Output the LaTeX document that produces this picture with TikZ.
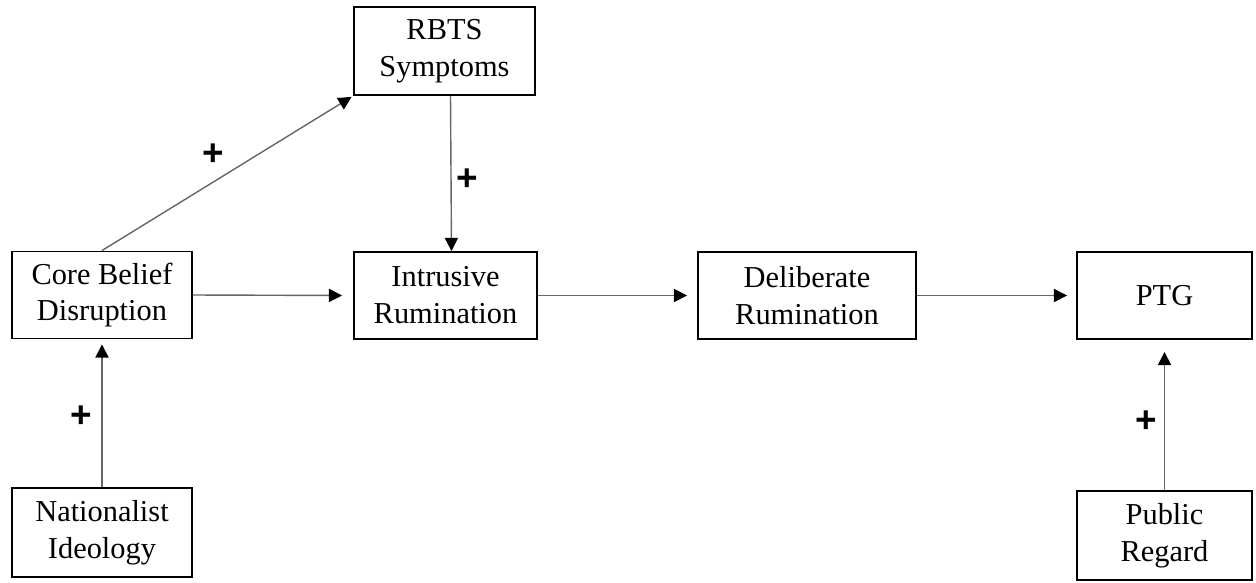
\documentclass[tikz,border=0pt]{standalone}
\usepackage{fontspec}
\setmainfont{Liberation Serif}
\newfontfamily\plusfont{Liberation Sans}
\usetikzlibrary{arrows.meta}

\tikzset{
  box/.style={draw, line width=1.1pt, align=center, inner sep=0pt,
    font=\fontsize{17.3}{21}\selectfont},
  link/.style={draw=black!60, line width=0.8pt,
    -{Triangle[color=black, length=7.5pt, width=7.5pt]}},
  plus/.style={font=\plusfont\bfseries\fontsize{21}{21}\selectfont, inner sep=0pt}
}

\begin{document}
\begin{tikzpicture}[x=0.02cm, y=-0.02cm]
        \useasboundingbox (0,0) rectangle (1256,582);
        % boxes
        \node[box, minimum width=3.6cm, minimum height=1.74cm] (core) at (102,295) {Core Belief\\Disruption};
        \node[box, minimum width=3.66cm, minimum height=1.74cm] (intrusive) at (445.5,295.5) {Intrusive\\Rumination};
        \node[box, minimum width=3.62cm, minimum height=1.76cm] (rbts) at (444.5,51) {RBTS\\Symptoms};
        \node[box, minimum width=4.36cm, minimum height=1.74cm] (deliberate) at (807,295.5) {Deliberate\\Rumination};
        \node[box, minimum width=3.5cm, minimum height=1.74cm] (ptg) at (1164.5,295.5) {PTG};
        \node[box, minimum width=3.6cm, minimum height=1.78cm] (nationalist) at (102,532.5) {Nationalist\\Ideology};
        \node[box, minimum width=3.5cm, minimum height=1.78cm] (public) at (1164.5,535.5) {Public\\Regard};
        % arrows
        \draw[link, shorten >=1pt] (core.north) -- (rbts.south west);
        \draw[link] ([xshift=0.12cm]rbts.south) -- ([xshift=0.12cm]intrusive.north);
        \draw[link, shorten >=0.22cm] (core.east) -- (intrusive.west);
        \draw[link, shorten >=0.2cm] (intrusive.east) -- (deliberate.west);
        \draw[link, shorten >=0.18cm] (deliberate.east) -- (ptg.west);
        \draw[link, shorten >=0.1cm] (nationalist.north) -- (core.south);
        \draw[link, shorten >=0.24cm] (public.north) -- (ptg.south);
        % signs
        \node[plus] (plusA) at (213,155) {+};
        \node[plus] (plusB) at (467,180) {+};
        \node[plus] (plusC) at (81,417) {+};
        \node[plus] (plusD) at (1146,422) {+};
\end{tikzpicture}
\end{document}
